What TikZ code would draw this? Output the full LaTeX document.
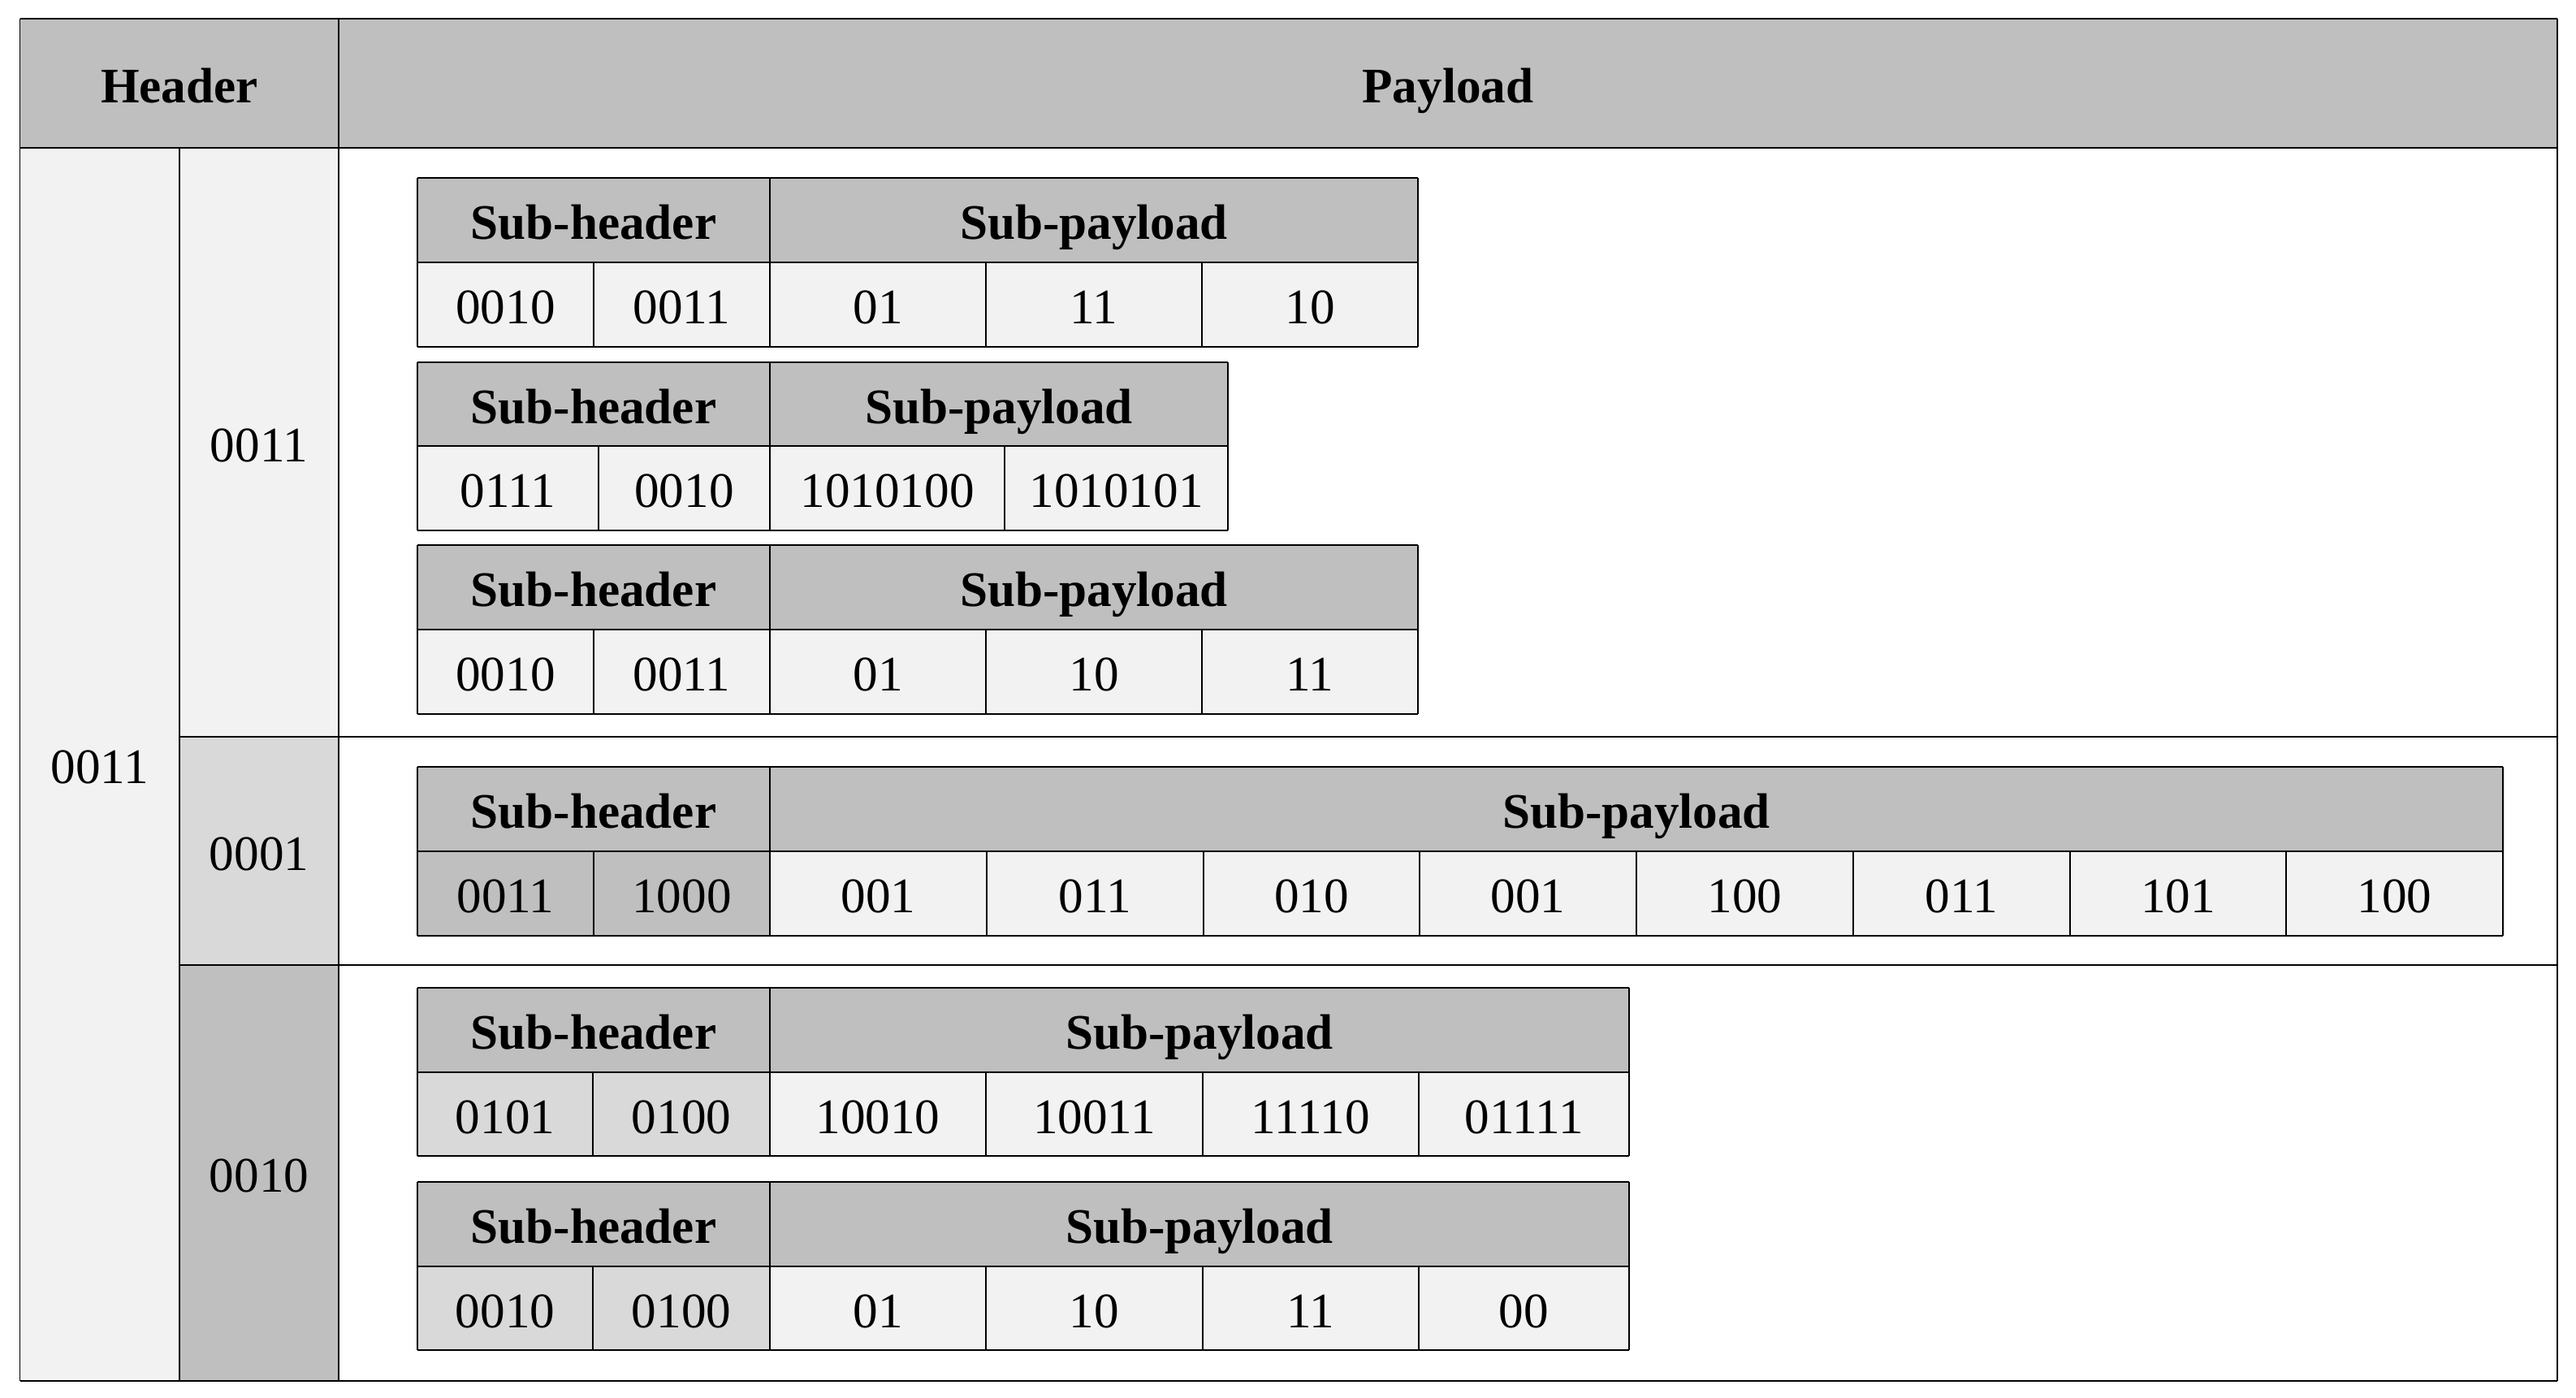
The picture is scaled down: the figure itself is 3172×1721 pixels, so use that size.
\documentclass[tikz,border=0pt]{standalone}
\usepackage{fontspec}
\setmainfont{Liberation Serif}
\definecolor{gA}{HTML}{BFBFBF}
\definecolor{gB}{HTML}{D9D9D9}
\definecolor{gC}{HTML}{F2F2F2}
\tikzset{
  txt/.style={inner sep=0pt, text height=10.4pt, text depth=0pt, yshift=-0.7pt, font=\fontsize{15.3}{18}\selectfont},
  hln/.style={line width=0.45pt, black},
  vln/.style={line width=0.3pt, black}
}
\newcommand{\tcell}[7]{%
  \fill[#6] (#2,#3) rectangle (#4,#5);
  \node[txt] (#1) at ({(#2+#4)/2},{(#3+#5)/2}) {#7};}
\newcommand{\subhead}[6]{%
  \tcell{#1h}{#2}{#5}{#3}{#6}{gA}{\textbf{Sub-header}}
  \tcell{#1p}{#3}{#5}{#4}{#6}{gA}{\textbf{Sub-payload}}}
\newcommand{\sublines}[7]{%
  \draw[hln] (#1,#4) -- (#3,#4) (#1,#5) -- (#3,#5) (#1,#6) -- (#3,#6);
  \draw[vln] (#1,#4) -- (#1,#6) (#2,#4) -- (#2,#6) (#3,#4) -- (#3,#6);
  \foreach \xx in {#7} {\draw[vln] (\xx,#5) -- (\xx,#6);}}
\begin{document}
\begin{tikzpicture}[x=0.25pt,y=-0.25pt]
\useasboundingbox[fill=white] (0,0) rectangle (3172,1721);
% outer header row
\fill[gA] (24.5,23) rectangle (3149,182);
\node[txt] (hdr) at (221,102.5) {\textbf{Header}};
\node[txt] (pay) at (1783,102.5) {\textbf{Payload}};
\tcell{a}{24.5}{182}{221}{1700}{gC}{0011}
\tcell{b1}{221}{182}{417}{907}{gC}{0011}
\tcell{b2}{221}{907}{417}{1188}{gB}{0001}
\tcell{b3}{221}{1188}{417}{1700}{gA}{0010}
\draw[hln] (24.5,23) -- (3149,23) (24.5,182) -- (3149,182)
  (221,907) -- (3149,907) (221,1188) -- (3149,1188) (24.5,1700) -- (3149,1700);
\draw[vln] (24.5,23) -- (24.5,1700) (221,182) -- (221,1700)
  (417,23) -- (417,1700) (3149,23) -- (3149,1700);
% sub-table 1
\subhead{s1}{514}{948}{1746}{219}{323}
\tcell{s1a}{514}{323}{731}{427}{gC}{0010}
\tcell{s1b}{731}{323}{948}{427}{gC}{0011}
\tcell{s1c}{948}{323}{1214}{427}{gC}{01}
\tcell{s1d}{1214}{323}{1480}{427}{gC}{11}
\tcell{s1e}{1480}{323}{1746}{427}{gC}{10}
\sublines{514}{948}{1746}{219}{323}{427}{731,1214,1480}
% sub-table 2
\subhead{s2}{514}{948}{1512}{446}{549}
\tcell{s2a}{514}{549}{737}{653}{gC}{0111}
\tcell{s2b}{737}{549}{948}{653}{gC}{0010}
\tcell{s2c}{948}{549}{1237}{653}{gC}{1010100}
\tcell{s2d}{1237}{549}{1512}{653}{gC}{1010101}
\sublines{514}{948}{1512}{446}{549}{653}{737,1237}
% sub-table 3
\subhead{s3}{514}{948}{1746}{671}{775}
\tcell{s3a}{514}{775}{731}{879}{gC}{0010}
\tcell{s3b}{731}{775}{948}{879}{gC}{0011}
\tcell{s3c}{948}{775}{1214}{879}{gC}{01}
\tcell{s3d}{1214}{775}{1480}{879}{gC}{10}
\tcell{s3e}{1480}{775}{1746}{879}{gC}{11}
\sublines{514}{948}{1746}{671}{775}{879}{731,1214,1480}
% sub-table 4
\subhead{s4}{514}{948}{3082}{944}{1048}
\tcell{s4a}{514}{1048}{731}{1152}{gA}{0011}
\tcell{s4b}{731}{1048}{948}{1152}{gA}{1000}
\tcell{s4c}{948}{1048}{1215}{1152}{gC}{001}
\tcell{s4d}{1215}{1048}{1482}{1152}{gC}{011}
\tcell{s4e}{1482}{1048}{1748}{1152}{gC}{010}
\tcell{s4f}{1748}{1048}{2015}{1152}{gC}{001}
\tcell{s4g}{2015}{1048}{2282}{1152}{gC}{100}
\tcell{s4h}{2282}{1048}{2549}{1152}{gC}{011}
\tcell{s4i}{2549}{1048}{2815}{1152}{gC}{101}
\tcell{s4j}{2815}{1048}{3082}{1152}{gC}{100}
\sublines{514}{948}{3082}{944}{1048}{1152}{731,1215,1482,1748,2015,2282,2549,2815}
% sub-table 5
\subhead{s5}{514}{948}{2006}{1216}{1320}
\tcell{s5a}{514}{1320}{730}{1423}{gB}{0101}
\tcell{s5b}{730}{1320}{948}{1423}{gB}{0100}
\tcell{s5c}{948}{1320}{1214}{1423}{gC}{10010}
\tcell{s5d}{1214}{1320}{1481}{1423}{gC}{10011}
\tcell{s5e}{1481}{1320}{1747}{1423}{gC}{11110}
\tcell{s5f}{1747}{1320}{2006}{1423}{gC}{01111}
\sublines{514}{948}{2006}{1216}{1320}{1423}{730,1214,1481,1747}
% sub-table 6
\subhead{s6}{514}{948}{2006}{1455}{1559}
\tcell{s6a}{514}{1559}{730}{1662}{gB}{0010}
\tcell{s6b}{730}{1559}{948}{1662}{gB}{0100}
\tcell{s6c}{948}{1559}{1214}{1662}{gC}{01}
\tcell{s6d}{1214}{1559}{1481}{1662}{gC}{10}
\tcell{s6e}{1481}{1559}{1747}{1662}{gC}{11}
\tcell{s6f}{1747}{1559}{2006}{1662}{gC}{00}
\sublines{514}{948}{2006}{1455}{1559}{1662}{730,1214,1481,1747}
\end{tikzpicture}
\end{document}
